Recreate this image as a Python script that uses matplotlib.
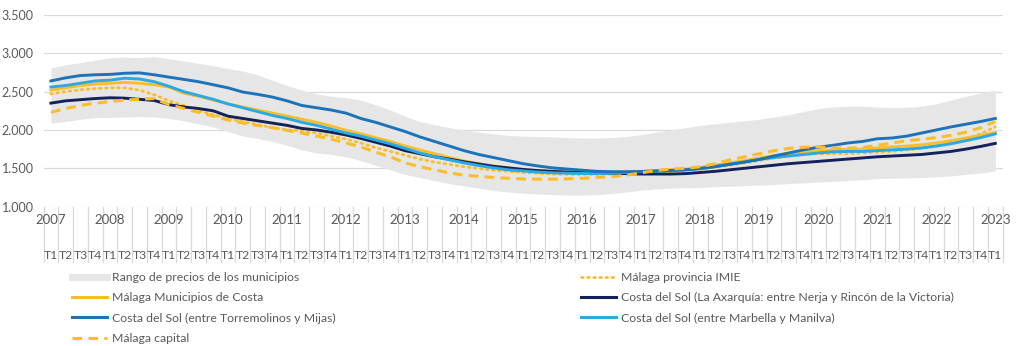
import matplotlib
matplotlib.use("Agg")
import matplotlib.pyplot as plt
from matplotlib.lines import Line2D
from matplotlib.transforms import blended_transform_factory

plt.rcParams['font.family'] = ['Lato', 'DejaVu Sans']

years = [str(y) for y in range(2007, 2024)]
quarter_names = ["T1", "T2", "T3", "T4"]
quarters = [q for _ in range(16) for q in quarter_names] + ["T1"]

# Rango de precios de los municipios (mínimo y máximo), €/m2
range_low = [2090, 2110, 2140, 2160, 2165, 2170, 2175, 2170,
             2150, 2120, 2080, 2040, 1980, 1920, 1890, 1850,
             1800, 1740, 1700, 1680, 1650, 1600, 1540, 1480,
             1420, 1380, 1340, 1300, 1270, 1240, 1210, 1190,
             1175, 1165, 1155, 1150, 1150, 1155, 1170, 1190,
             1215, 1230, 1240, 1245, 1250, 1260, 1265, 1275,
             1280, 1290, 1300, 1310, 1320, 1330, 1340, 1350,
             1365, 1370, 1375, 1380, 1390, 1400, 1420, 1440,
             1465]
range_high = [2810, 2850, 2880, 2910, 2940, 2950, 2945, 2955,
              2930, 2900, 2870, 2840, 2800, 2770, 2720, 2650,
              2580, 2520, 2470, 2440, 2420, 2390, 2330, 2260,
              2180, 2110, 2070, 2030, 2000, 1970, 1950, 1930,
              1920, 1915, 1910, 1900, 1895, 1895, 1900, 1915,
              1940, 1970, 2000, 2030, 2060, 2080, 2100, 2120,
              2140, 2170, 2200, 2240, 2280, 2300, 2310, 2310,
              2300, 2290, 2295, 2310, 2340, 2390, 2440, 2480,
              2520]

malaga_imie = [2470, 2500, 2525, 2540, 2550, 2550, 2520, 2460,
               2380, 2320, 2250, 2200, 2140, 2110, 2070, 2030,
               2000, 1990, 1960, 1920, 1880, 1830, 1770, 1720,
               1670, 1620, 1580, 1550, 1520, 1495, 1475, 1460,
               1445, 1435, 1425, 1420, 1420, 1420, 1425, 1430,
               1440, 1450, 1460, 1475, 1490, 1510, 1540, 1570,
               1600, 1635, 1660, 1680, 1690, 1690, 1690, 1700,
               1710, 1720, 1740, 1760, 1790, 1830, 1880, 1950,
               2040]
malaga_costa = [2520, 2550, 2580, 2600, 2610, 2620, 2610, 2590,
                2560, 2480, 2440, 2390, 2340, 2300, 2260, 2220,
                2180, 2140, 2100, 2050, 1995, 1950, 1900, 1850,
                1790, 1740, 1690, 1640, 1595, 1560, 1530, 1505,
                1480, 1465, 1455, 1450, 1445, 1440, 1445, 1452,
                1460, 1470, 1480, 1490, 1510, 1540, 1570, 1600,
                1635, 1665, 1690, 1710, 1730, 1740, 1745, 1750,
                1765, 1780, 1790, 1805, 1830, 1860, 1895, 1930,
                1965]
axarquia = [2350, 2380, 2395, 2410, 2420, 2415, 2400, 2385,
            2330, 2300, 2280, 2250, 2180, 2150, 2120, 2090,
            2060, 2020, 2000, 1970, 1935, 1890, 1840, 1790,
            1730, 1690, 1650, 1620, 1585, 1555, 1525, 1505,
            1485, 1470, 1460, 1450, 1445, 1440, 1435, 1430,
            1425, 1425, 1425, 1430, 1445, 1460, 1480, 1500,
            1520, 1540, 1560, 1575, 1590, 1605, 1620, 1635,
            1650, 1660, 1670, 1680, 1700, 1720, 1750, 1785,
            1825]
torremolinos_mijas = [2640, 2680, 2710, 2720, 2725, 2740, 2745, 2720,
                      2690, 2660, 2630, 2590, 2550, 2495, 2465, 2430,
                      2380, 2320, 2290, 2260, 2220, 2150, 2100, 2040,
                      1980, 1910, 1850, 1790, 1730, 1680, 1640, 1600,
                      1560, 1530, 1505, 1490, 1475, 1460, 1455, 1455,
                      1458, 1465, 1472, 1480, 1495, 1520, 1550, 1580,
                      1615, 1660, 1700, 1740, 1775, 1800, 1830, 1850,
                      1885, 1895, 1920, 1960, 2000, 2040, 2075, 2110,
                      2150]
marbella_manilva = [2560, 2580, 2610, 2640, 2650, 2675, 2665, 2630,
                    2570, 2500, 2450, 2400, 2340, 2290, 2240, 2190,
                    2150, 2100, 2060, 2010, 1960, 1920, 1870, 1820,
                    1760, 1700, 1650, 1610, 1570, 1535, 1505, 1480,
                    1465, 1450, 1440, 1435, 1432, 1430, 1435, 1445,
                    1455, 1462, 1470, 1480, 1500, 1525, 1555, 1585,
                    1615, 1640, 1660, 1680, 1700, 1715, 1720, 1720,
                    1730, 1740, 1750, 1765, 1790, 1820, 1860, 1900,
                    1950]
malaga_capital = [2230, 2280, 2320, 2350, 2370, 2390, 2400, 2410,
                  2330, 2280, 2230, 2180, 2130, 2090, 2060, 2030,
                  1995, 1960, 1920, 1880, 1830, 1780, 1710, 1650,
                  1570, 1520, 1480, 1440, 1410, 1395, 1380, 1370,
                  1360, 1358, 1358, 1362, 1370, 1380, 1390, 1410,
                  1440, 1470, 1490, 1500, 1520, 1560, 1610, 1650,
                  1690, 1730, 1760, 1775, 1780, 1765, 1760, 1770,
                  1800, 1830, 1860, 1880, 1900, 1930, 1970, 2030,
                  2110]

y_ticks = [1000, 1500, 2000, 2500, 3000, 3500]
y_labels = ["1.000", "1.500", "2.000", "2.500", "3.000", "3.500"]

YELLOW = "#FDBD2A"
NAVY = "#14225C"
BLUE = "#1C73BA"
LIGHT_BLUE = "#2AAAE2"
BAND = "#E6E6E6"
GRID = "#D9D9D9"
TEXT = "#595959"

fig = plt.figure(figsize=(10.24, 3.46), dpi=100)
ax = fig.add_axes([0.0425, 0.4029, 0.9367, 0.5537])

x = list(range(len(quarters)))

ax.fill_between(x, range_low, range_high, color=BAND, lw=0, zorder=1)
ax.plot(x, malaga_imie, color=YELLOW, lw=2.0, linestyle=(0, (0.6, 1.6)),
        dash_capstyle='round', zorder=3)
ax.plot(x, malaga_costa, color=YELLOW, lw=2.1, zorder=3)
ax.plot(x, axarquia, color=NAVY, lw=2.1, zorder=3)
ax.plot(x, marbella_manilva, color=LIGHT_BLUE, lw=2.1, zorder=3)
ax.plot(x, torremolinos_mijas, color=BLUE, lw=2.1, zorder=3)
ax.plot(x, malaga_capital, color=YELLOW, lw=2.2, linestyle=(0, (3.2, 2.0)),
        zorder=3)

ax.set_xlim(-0.5, len(quarters) - 0.5)
ax.set_ylim(1000, 3500)
ax.set_yticks(y_ticks)
ax.set_yticklabels(y_labels)
ax.yaxis.grid(True, color=GRID, lw=0.9)
ax.set_axisbelow(True)
ax.tick_params(axis='y', length=0, pad=7, labelsize=9, labelcolor=TEXT)
ax.set_xticks([])
for s in ax.spines.values():
    s.set_visible(False)

# Two-level category axis: separators, year row, quarter row
tr = blended_transform_factory(ax.transData, ax.transAxes)
for i in range(len(quarters) + 1):
    ax.plot([i - 0.5, i - 0.5], [0, -0.29], color=GRID, lw=0.9,
            transform=tr, clip_on=False, zorder=0)
for k, yr in enumerate(years):
    ax.text(4 * k, -0.068, yr, transform=tr, ha='center', va='center',
            fontsize=9.5, color=TEXT)
for i, q in enumerate(quarters):
    ax.text(i, -0.255, q, transform=tr, ha='center', va='center',
            fontsize=8.8, color=TEXT)

def handle(**kw):
    return Line2D([], [], **kw)

left_items = [
    (handle(color=BAND, lw=5), "Rango de precios de los municipios"),
    (handle(color=YELLOW, lw=2.2), "Málaga Municipios de Costa"),
    (handle(color=BLUE, lw=2.2), "Costa del Sol (entre Torremolinos y Mijas)"),
    (handle(color=YELLOW, lw=2.2, linestyle=(0, (3.2, 2.0))), "Málaga capital"),
]
right_items = [
    (handle(color=YELLOW, lw=2.0, linestyle=(0, (0.6, 1.6)),
            dash_capstyle='round'), "Málaga provincia IMIE"),
    (handle(color=NAVY, lw=2.2),
     "Costa del Sol (La Axarquía: entre Nerja y Rincón de la Victoria)"),
    (handle(color=LIGHT_BLUE, lw=2.2), "Costa del Sol (entre Marbella y Manilva)"),
]

common = dict(frameon=False, fontsize=8.8, handlelength=2.9, handletextpad=0.35,
              labelspacing=0.76, borderpad=0, borderaxespad=0,
              labelcolor=TEXT, loc='upper left')
fig.legend([h for h, _ in left_items], [l for _, l in left_items],
           bbox_to_anchor=(72 / 1024, 1 - 272 / 346), **common)
fig.legend([h for h, _ in right_items], [l for _, l in right_items],
           bbox_to_anchor=(581 / 1024, 1 - 272 / 346), **common)

fig.savefig("out.png", dpi=100, facecolor="white")
